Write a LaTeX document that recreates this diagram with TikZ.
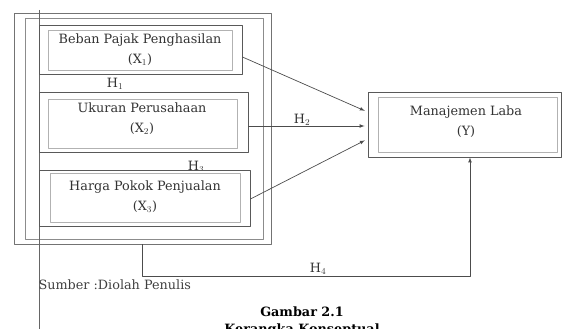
\documentclass[tikz,border=0pt]{standalone}
\usepackage{fontspec}
\setmainfont{DejaVu Serif}
\begin{document}
\begin{tikzpicture}[x=1pt,y=-1pt,>=latex,line join=round,
  font=\fontsize{12.8}{14}\selectfont,
  kotak/.style={draw=black!65,line width=0.9pt,fill=white,inner sep=0pt},
  dalam/.style={draw=black!30,line width=0.6pt,inner sep=0pt},
  bingkai/.style={draw=black!55,line width=0.9pt,inner sep=0pt},
  teks/.style={align=center,text=black!80},
  panah/.style={->,black!70,line width=0.7pt,shorten >=3pt}]
\useasboundingbox (0,0) rectangle (565,329);
% bingkai luar
\node[bingkai,minimum width=257pt,minimum height=231pt] (luar) at (142.5,128.5) {};
\node[dalam,draw=black!45,minimum width=238pt,minimum height=221pt] (luar2) at (144,128.5) {};
\draw[black!60,line width=0.8pt] (39,10)--(39,329);
% variabel
\node[kotak,minimum width=203pt,minimum height=49pt] (x1) at (140.5,49.5) {};
\node[dalam,minimum width=184pt,minimum height=40pt] (d1) at (140,50) {};
\node[teks] (t1) at (140,50) {Beban Pajak Penghasilan\\[6pt](X$_1$)};
\node[teks] (h1) at (115,84) {H$_1$};
\node[kotak,minimum width=209pt,minimum height=60pt] (x2) at (143.5,122) {};
\node[dalam,minimum width=189pt,minimum height=49pt] (d2) at (142.5,123.5) {};
\node[teks] (t2) at (142,119) {Ukuran Perusahaan\\[6pt](X$_2$)};
\node[teks] (h3) at (196,167) {H$_3$};
\node[kotak,minimum width=211pt,minimum height=56pt] (x3) at (144.5,198) {};
\node[dalam,minimum width=190pt,minimum height=49pt] (d3) at (145,197.5) {};
\node[teks] (t3) at (145,196.5) {Harga Pokok Penjualan\\[6pt](X$_3$)};
\node[kotak,minimum width=193pt,minimum height=65pt] (y) at (464.5,124.5) {};
\node[dalam,minimum width=179pt,minimum height=55pt] (dy) at (467.5,124.5) {};
\node[teks] (ty) at (466,121.5) {Manajemen Laba\\[6pt](Y)};
% hubungan
\draw[panah] ([yshift=-7.5pt]x1.east) -- ([yshift=12.5pt]y.west);
\draw[panah] ([yshift=-4pt]x2.east) -- ([yshift=-1.5pt]y.west);
\node[teks] (h2) at (302,120) {H$_2$};
\draw[panah] ([yshift=-1pt]x3.east) -- ([yshift=-14.5pt]y.west);
\draw[panah,shorten >=0pt] (luar.south) -- ++(0,32) -| ([xshift=5.5pt]y.south);
\node[teks] (h4) at (318,269) {H$_4$};
% keterangan
\node[anchor=west,text=black!75] (sumber) at (35,285) {Sumber :Diolah Penulis};
\node[font=\fontsize{12.8}{14}\selectfont\bfseries] (gambar) at (302,312) {Gambar 2.1};
\node[font=\fontsize{12.8}{14}\selectfont\bfseries] (judul) at (302,330) {Kerangka Konseptual};
\end{tikzpicture}
\end{document}
